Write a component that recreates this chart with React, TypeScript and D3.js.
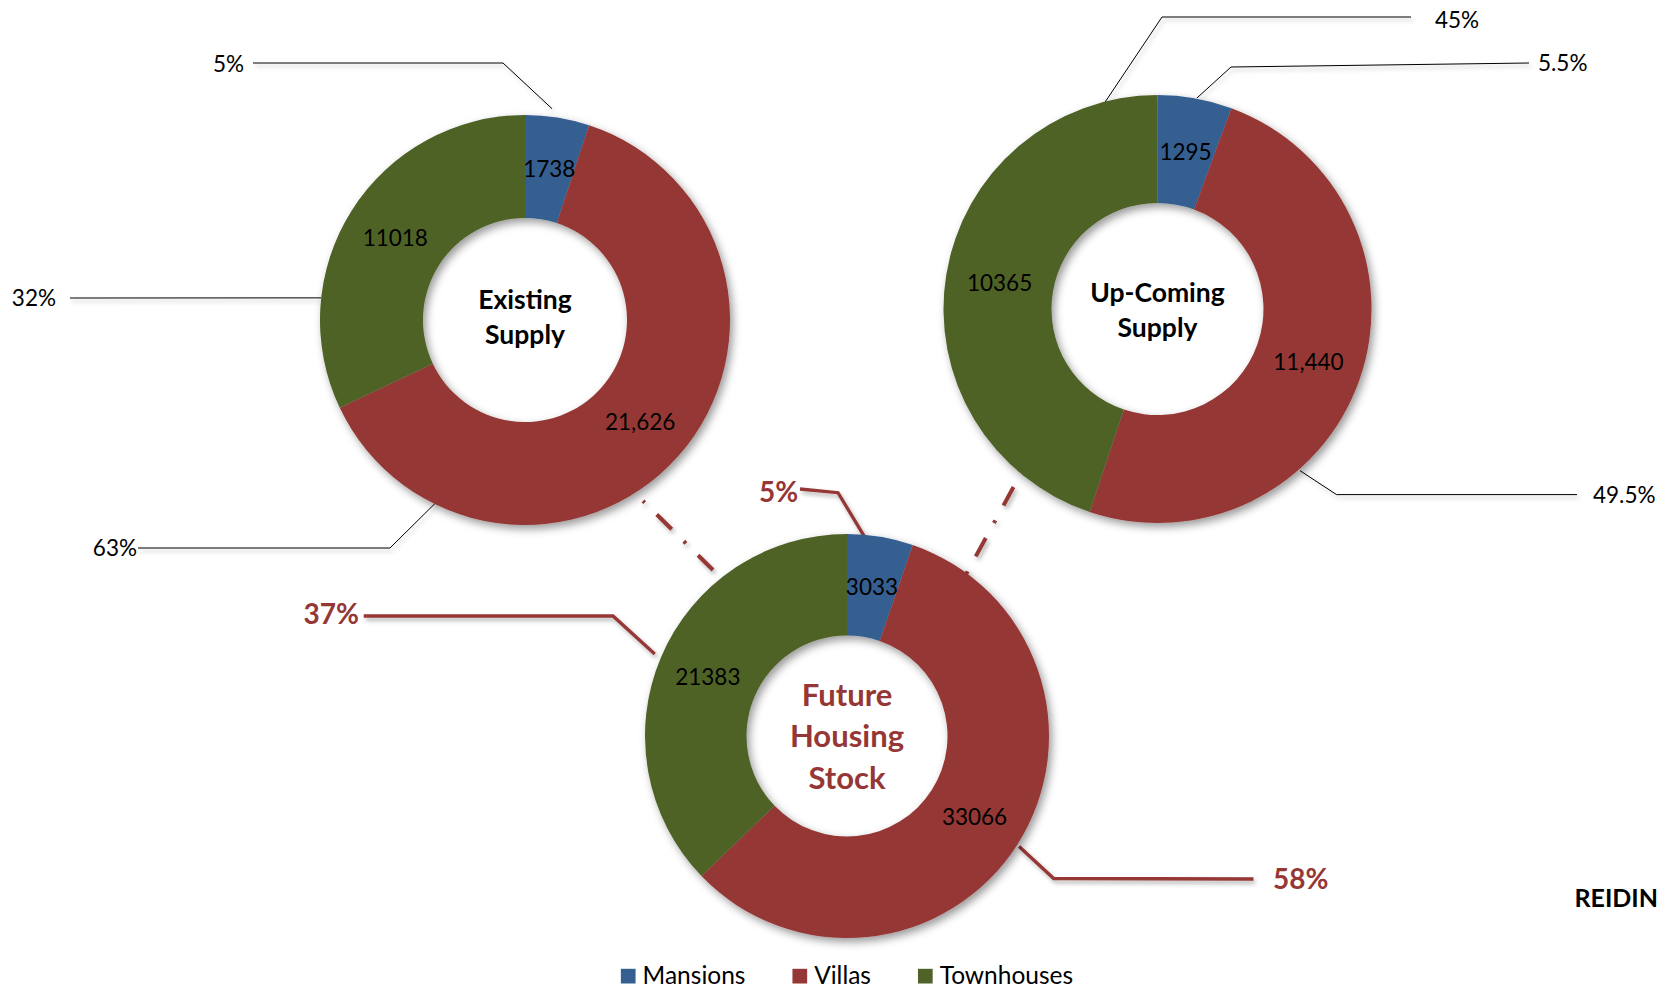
import React from "react";
import * as d3 from "d3";

const W = 1677;
const H = 987;
const FONT = "Lato, 'Open Sans', sans-serif";

// ---- data ----
const categories = ["Mansions", "Villas", "Townhouses"];
const colors = ["#365F91", "#953735", "#4F6228"];

const existingValues = [1738, 21626, 11018];
const existingValueLabels = ["1738", "21,626", "11018"];
const existingPctLabels = ["5%", "63%", "32%"];

const upcomingValues = [1295, 11440, 10365];
const upcomingValueLabels = ["1295", "11,440", "10365"];
const upcomingPctLabels = ["5.5%", "49.5%", "45%"];

const futureValues = [3033, 33066, 21383];
const futureValueLabels = ["3033", "33066", "21383"];
const futurePctLabels = ["5%", "58%", "37%"];

type Leader = {
  slice: number;
  angle: number; // degrees clockwise from 12 o'clock
  r: number;
  pts: [number, number][]; // relative to donut centre
  tx: number;
  ty: number;
  anchor: "start" | "end";
};

const existingLeaders: Leader[] = [
  { slice: 0, angle: 7.3, r: 213, pts: [[-22, -257], [-272, -257]], tx: -281, ty: -256, anchor: "end" },
  { slice: 1, angle: 205.9, r: 202, pts: [[-135, 228], [-387, 228]], tx: -388, ty: 228, anchor: "end" },
  { slice: 2, angle: 276.2, r: 205, pts: [[-455, -22]], tx: -469, ty: -22, anchor: "end" },
];
const upcomingLeaders: Leader[] = [
  { slice: 0, angle: 10.6, r: 214.7, pts: [[73.5, -242], [371.5, -246]], tx: 380.5, ty: -246.5, anchor: "start" },
  { slice: 1, angle: 138.6, r: 215.5, pts: [[179, 185.6], [419.5, 185.6]], tx: 435.5, ty: 186, anchor: "start" },
  { slice: 2, angle: 345.8, r: 213.5, pts: [[4.5, -292], [253.5, -292]], tx: 277.5, ty: -289, anchor: "start" },
];
const futureLeaders: Leader[] = [
  { slice: 0, angle: 5.9, r: 196, pts: [[-9, -243.3], [-47, -247]], tx: -48.7, ty: -244, anchor: "end" },
  { slice: 1, angle: 122.7, r: 204.5, pts: [[206.7, 142.5], [406.5, 143]], tx: 426, ty: 143, anchor: "start" },
  { slice: 2, angle: 293.1, r: 209, pts: [[-234, -120], [-483.3, -120]], tx: -488, ty: -122, anchor: "end" },
];

type Donut = {
  id: string;
  values: number[];
  valueLabels: string[];
  pctLabels: string[];
  leaders: Leader[];
  cx: number;
  cy: number;
  ro: number;
  ri: number;
  title: string[];
  titleSize: number;
  titleColor: string;
  titleLineH: number;
  titleOffset: number;
  pctColor: string;
  pctSize: number;
  pctBold: boolean;
  leaderColor: string;
  leaderWidth: number;
};

const donuts: Donut[] = [
  {
    id: "existing", values: existingValues, valueLabels: existingValueLabels, pctLabels: existingPctLabels,
    leaders: existingLeaders, cx: 525, cy: 320, ro: 205, ri: 102,
    title: ["Existing", "Supply"], titleSize: 26.5, titleColor: "#000", titleLineH: 34.5, titleOffset: -3,
    pctColor: "#000", pctSize: 22.5, pctBold: false, leaderColor: "#000", leaderWidth: 1,
  },
  {
    id: "upcoming", values: upcomingValues, valueLabels: upcomingValueLabels, pctLabels: upcomingPctLabels,
    leaders: upcomingLeaders, cx: 1157.5, cy: 309, ro: 214, ri: 106,
    title: ["Up-Coming", "Supply"], titleSize: 26.5, titleColor: "#000", titleLineH: 34.5, titleOffset: 1,
    pctColor: "#000", pctSize: 22.5, pctBold: false, leaderColor: "#000", leaderWidth: 1,
  },
  {
    id: "future", values: futureValues, valueLabels: futureValueLabels, pctLabels: futurePctLabels,
    leaders: futureLeaders, cx: 847, cy: 736, ro: 202, ri: 100.5,
    title: ["Future", "Housing", "Stock"], titleSize: 31, titleColor: "#953735", titleLineH: 41.5, titleOffset: 0,
    pctColor: "#953735", pctSize: 28, pctBold: true, leaderColor: "#953735", leaderWidth: 3.3,
  },
];

const connectors: [number, number][][] = [
  [[713, 570], [643, 501]],
  [[1013.5, 487], [964, 578]],
];

const legendFontSize = 24.5;
const legendCenterX = 847;
const legendBaseline = 983.5;

function measure(text: string, font: string): number {
  const c = document.createElement("canvas").getContext("2d");
  if (!c) return text.length * 11;
  c.font = font;
  return c.measureText(text).width;
}

function DonutChart({ d }: { d: Donut }) {
  const pie = d3.pie<number>().sort(null).value((v) => v).startAngle(0).endAngle(2 * Math.PI);
  const arcs = pie(d.values);
  const arc = d3.arc<d3.PieArcDatum<number>>().innerRadius(d.ri).outerRadius(d.ro);
  const rad = (a: number) => (a * Math.PI) / 180;
  const line = d3.line();
  const n = d.title.length;
  const cap = 0.72 * d.titleSize;
  return (
    <g>
      <g filter="url(#lshadow)">
        {d.leaders.map((l, i) => {
          const ax = d.cx + l.r * Math.sin(rad(l.angle));
          const ay = d.cy - l.r * Math.cos(rad(l.angle));
          const pts: [number, number][] = [[ax, ay], ...l.pts.map(([x, y]) => [d.cx + x, d.cy + y] as [number, number])];
          return (
            <path key={i} d={line(pts) || ""} fill="none" stroke={d.leaderColor} strokeWidth={d.leaderWidth}
              strokeLinejoin="miter" />
          );
        })}
      </g>
      <g transform={`translate(${d.cx},${d.cy})`} filter="url(#shadow)">
        {arcs.map((a, i) => (
          <path key={i} d={arc(a) || ""} fill={colors[i]} />
        ))}
      </g>
      <g transform={`translate(${d.cx},${d.cy})`}>
        {arcs.map((a, i) => {
          const [x, y] = arc.centroid(a);
          return (
            <text key={i} x={x} y={y} dy="0.36em" textAnchor="middle" fontFamily={FONT} fontSize={22.5} fill="#000">
              {d.valueLabels[i]}
            </text>
          );
        })}
        {d.title.map((t, i) => (
          <text key={"t" + i} x={0} y={d.titleOffset + (i - (n - 1) / 2) * d.titleLineH + cap / 2}
            textAnchor="middle" fontFamily={FONT} fontWeight="bold" fontSize={d.titleSize} fill={d.titleColor}>
            {t}
          </text>
        ))}
      </g>
      {d.leaders.map((l, i) => (
        <text key={"p" + i} x={d.cx + l.tx} y={d.cy + l.ty} dy="0.36em" textAnchor={l.anchor}
          fontFamily={FONT} fontSize={d.pctSize} fontWeight={d.pctBold ? "bold" : "normal"} fill={d.pctColor}>
          {d.pctLabels[l.slice]}
        </text>
      ))}
    </g>
  );
}

export default function App() {
  const line = d3.line();
  const legendFont = `${legendFontSize}px Lato`;
  const sq = 14.7;
  const sqGap = 7;
  const itemGap = 47;
  const widths = categories.map((c) => sq + sqGap + measure(c, legendFont));
  const total = d3.sum(widths) + itemGap * (categories.length - 1);
  let x0 = legendCenterX - total / 2;
  const legendX = widths.map((w) => {
    const x = x0;
    x0 += w + itemGap;
    return x;
  });

  return (
    <svg width={W} height={H} style={{ position: "absolute", left: 0, top: 0, background: "#fff" }}>
      <defs>
        <filter id="shadow" x="-20%" y="-20%" width="140%" height="140%">
          <feDropShadow dx="3" dy="4" stdDeviation="4" floodColor="#000" floodOpacity="0.4" />
        </filter>
        <filter id="lshadow" x="-20%" y="-20%" width="140%" height="140%">
          <feDropShadow dx="2" dy="3" stdDeviation="2" floodColor="#000" floodOpacity="0.3" />
        </filter>
      </defs>
      <rect x={0} y={0} width={W} height={H} fill="#fff" />
      <g filter="url(#lshadow)">
        {connectors.map((c, i) => (
          <path key={i} d={line(c) || ""} fill="none" stroke="#953735" strokeWidth={4}
            strokeDasharray="21 17 3 17" />
        ))}
      </g>
      {donuts.map((d) => (
        <DonutChart key={d.id} d={d} />
      ))}
      <text x={1658} y={907} textAnchor="end" fontFamily={FONT} fontWeight="bold" fontSize={25} fill="#000">
        REIDIN
      </text>
      <g>
        {categories.map((c, i) => (
          <g key={c} transform={`translate(${legendX[i]},0)`}>
            <rect x={0} y={legendBaseline - sq} width={sq} height={sq} fill={colors[i]} />
            <text x={sq + sqGap} y={legendBaseline} fontFamily={FONT} fontSize={legendFontSize} fill="#000">
              {c}
            </text>
          </g>
        ))}
      </g>
    </svg>
  );
}
